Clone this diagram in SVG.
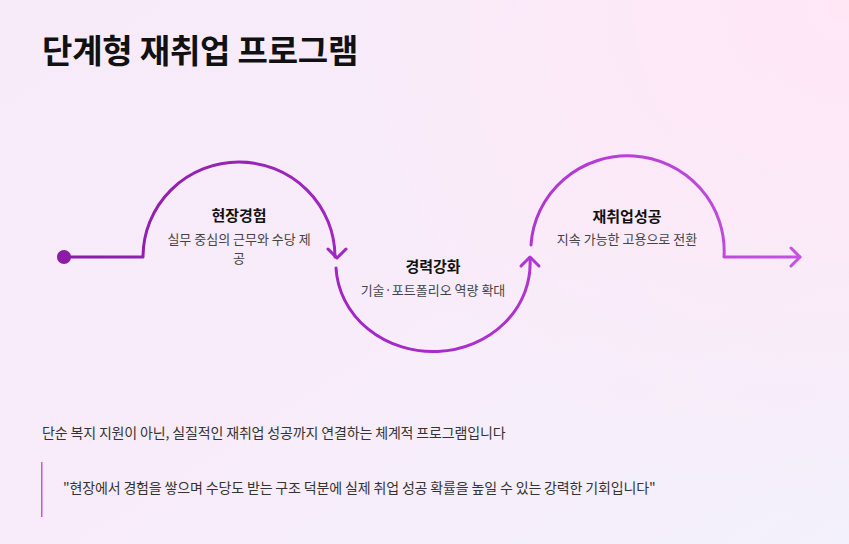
<svg xmlns="http://www.w3.org/2000/svg" width="849" height="544" viewBox="0 0 849 544">
  <defs>
    <linearGradient id="bg" x1="0" y1="0" x2="1" y2="1">
      <stop offset="0" stop-color="#f7ebf9"/>
      <stop offset="0.5" stop-color="#f9ecfa"/>
      <stop offset="1" stop-color="#f3f1fc"/>
    </linearGradient>
    <radialGradient id="glow" cx="849" cy="0" r="520" gradientUnits="userSpaceOnUse">
      <stop offset="0" stop-color="#ffe7f6" stop-opacity="1"/>
      <stop offset="1" stop-color="#ffe7f6" stop-opacity="0"/>
    </radialGradient>
    <linearGradient id="flow" gradientUnits="userSpaceOnUse" x1="60" y1="0" x2="805" y2="0">
      <stop offset="0" stop-color="#8a1ca6"/>
      <stop offset="0.5" stop-color="#a82acb"/>
      <stop offset="1" stop-color="#c652e2"/>
    </linearGradient>
    <style>
      .title { font-family: "Noto Sans CJK KR", "Noto Sans", sans-serif; font-weight: 700; font-size: 33px; fill: #111; letter-spacing: -0.2px; }
      .head { font-family: "Noto Sans CJK KR", "Noto Sans", sans-serif; font-weight: 700; font-size: 15px; fill: #111; text-anchor: middle; }
      .desc { font-family: "Noto Sans CJK KR", "Noto Sans", sans-serif; font-size: 13px; fill: #444; text-anchor: middle; }
      .body { font-family: "Noto Sans CJK KR", "Noto Sans", sans-serif; font-size: 14px; fill: #333; letter-spacing: -0.15px; }
      .line { fill: none; stroke: url(#flow); stroke-width: 3; stroke-linecap: round; stroke-linejoin: round; }
    </style>
  </defs>
  <rect width="849" height="544" fill="url(#bg)"/>
  <rect width="849" height="544" fill="url(#glow)"/>

  <text class="title" x="42" y="63">단계형 재취업 프로그램</text>

  <g id="connectors">
    <circle cx="64" cy="257" r="7" fill="#8a1ca6"/>
    <path class="line" d="M64 257 H143 A96 95 0 0 1 335 257"/>
    <path class="line" d="M328 249 L337 258 L346 249"/>
    <path class="line" d="M336 268 A97 88 0 0 0 530 259"/>
    <path class="line" d="M521 266 L530 257 L539 266"/>
    <path class="line" d="M531 245 A96.5 95 0 0 1 724 257 H800"/>
    <path class="line" d="M791 248 L800 257 L791 266"/>
  </g>

  <g id="node-field">
    <text class="head" x="239" y="221">현장경험</text>
    <text class="desc" x="239" y="243.5">실무 중심의 근무와 수당 제</text>
    <text class="desc" x="239" y="262.5">공</text>
  </g>
  <g id="node-skill">
    <text class="head" x="433" y="272">경력강화</text>
    <text class="desc" x="433" y="295">기술·포트폴리오 역량 확대</text>
  </g>
  <g id="node-success">
    <text class="head" x="627" y="222">재취업성공</text>
    <text class="desc" x="627" y="244">지속 가능한 고용으로 전환</text>
  </g>

  <g id="summary">
    <text class="body" x="42" y="438">단순 복지 지원이 아닌, 실질적인 재취업 성공까지 연결하는 체계적 프로그램입니다</text>
  </g>
  <g id="quote">
    <rect x="41" y="462" width="1.5" height="55" fill="#c05ad6"/>
    <text class="body" x="63" y="493">"현장에서 경험을 쌓으며 수당도 받는 구조 덕분에 실제 취업 성공 확률을 높일 수 있는 강력한 기회입니다"</text>
  </g>
</svg>
